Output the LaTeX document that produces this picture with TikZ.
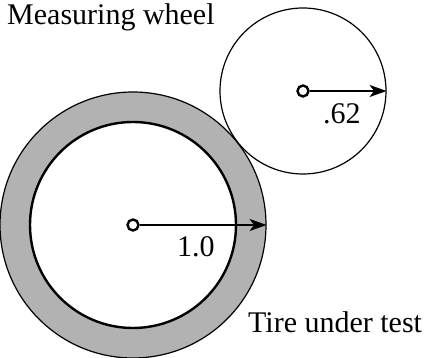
\documentclass[tikz,border=0pt]{standalone}
\usepackage{fontspec}
\setmainfont{Liberation Serif}
\usepackage{tikz}
\usetikzlibrary{arrows.meta,positioning}

\begin{document}
\begin{tikzpicture}[
  x=1pt, y=1pt,
  wheel/.style={circle, draw, inner sep=0pt, line width=1.2pt},
  hub/.style={circle, draw, inner sep=0pt, minimum size=11pt, line width=2.4pt, fill=white},
  radius arrow/.style={-{Stealth[length=17pt,width=12pt,inset=4.5pt]}, line width=2pt},
  lbl/.style={anchor=base west, inner sep=0pt, font=\fontsize{30}{36}\selectfont}
]
  \useasboundingbox (0,0) rectangle (432,358);

  \node[wheel, minimum size=266pt, fill=black!30] (tire) at (133,133) {};
  \node[wheel, minimum size=206pt, fill=white, line width=2.4pt] (rim) at (tire.center) {};
  \node[wheel, minimum size=166pt, fill=white] (meas) at (303,267) {};

  \node[hub] (tirehub) at (tire.center) {};
  \node[hub] (meashub) at (meas.center) {};

  \draw[radius arrow] (tirehub) -- (tire.east);
  \draw[radius arrow] (meashub) -- (meas.east);

  \node[lbl] (tirer) at (177,101) {1.0};
  \node[lbl] (measr) at (323,234) {.62};
  \node[lbl] (meastxt) at (7,333) {Measuring wheel};
  \node[lbl] (tiretxt) at (248,25) {Tire under test};
\end{tikzpicture}
\end{document}
